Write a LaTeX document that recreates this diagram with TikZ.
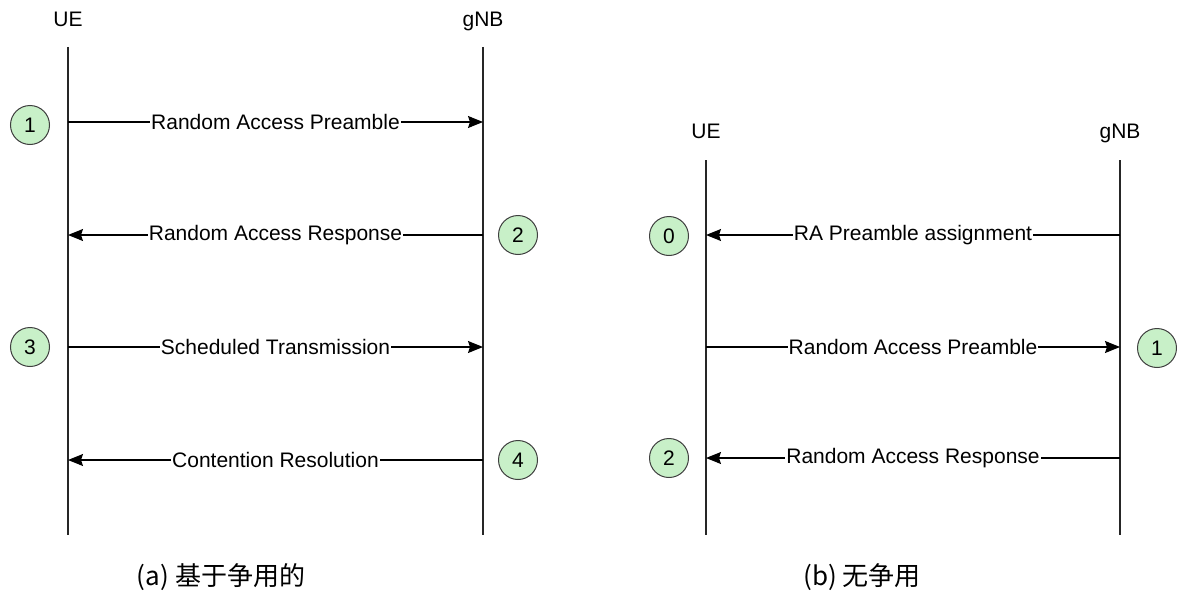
\documentclass[tikz,border=0pt]{standalone}
\usepackage{fontspec}
\setmainfont{Liberation Sans}
\newfontfamily\cjk{Noto Sans CJK SC}
\usetikzlibrary{positioning,arrows.meta}
\definecolor{stepgreen}{RGB}{200,240,200}
\tikzstyle{ent}=[inner sep=0pt]
\tikzstyle{life}=[line width=1.8pt,black!85]
\tikzstyle{msg}=[line width=1.2pt,->]
\tikzstyle{lbl}=[fill=white,inner sep=1pt]
\tikzstyle{stepnum}=[draw=black!75,fill=stepgreen,circle,line width=1pt,minimum size=39pt,inner sep=0pt]
\tikzstyle{capt}=[font=\cjk\fontsize{26}{30}\selectfont]
% name, label, x, label y, top of line
\newcommand{\newLife}[5]{\node[ent] (#1) at (#3,#4) {#2};
  \coordinate (#1-top) at (#3,#5);
  \coordinate (#1-bot) at (#3,535);
  \draw[life] (#1-top) -- (#1-bot);}
% name, from, to, y, text
\newcommand{\newMsg}[5]{\coordinate (#1a) at (#2-top |- 0,#4);
  \coordinate (#1b) at (#3-top |- 0,#4);
  \draw[msg] (#1a) -- node[lbl] {#5} (#1b);}
\newcommand{\newStep}[4]{\node[stepnum] (#1) at (#2,#3) {#4};}

\begin{document}
\begin{tikzpicture}[x=1pt,y=-1pt,
      >={Stealth[length=15pt,width=12pt,inset=2pt]},
      font=\fontsize{21}{25}\selectfont
      ]
      \useasboundingbox (0,0) rectangle (1177,594);
      % (a) contention based
      \newLife{ueA}{UE}{68}{19}{47}
      \newLife{gnbA}{gNB}{483}{21}{47}
      \newMsg{mA1}{ueA}{gnbA}{122}{Random Access Preamble}
      \newMsg{mA2}{gnbA}{ueA}{235}{Random Access Response}
      \newMsg{mA3}{ueA}{gnbA}{347}{Scheduled Transmission}
      \newMsg{mA4}{gnbA}{ueA}{460}{Contention Resolution}
      \newStep{sA1}{30}{125}{1}
      \newStep{sA2}{518}{235}{2}
      \newStep{sA3}{30}{347}{3}
      \newStep{sA4}{518}{460}{4}
      \node[capt] (captA) at (221,577) {(a) 基于争用的};
      % (b) contention free
      \newLife{ueB}{UE}{706}{131}{160}
      \newLife{gnbB}{gNB}{1120}{133}{160}
      \newMsg{mB0}{gnbB}{ueB}{235}{RA Preamble assignment}
      \newMsg{mB1}{ueB}{gnbB}{347}{Random Access Preamble}
      \newMsg{mB2}{gnbB}{ueB}{458}{Random Access Response}
      \newStep{sB0}{669}{236}{0}
      \newStep{sB1}{1157}{348}{1}
      \newStep{sB2}{669}{458}{2}
      \node[capt] (captB) at (862,577) {(b) 无争用};
\end{tikzpicture}
\end{document}
